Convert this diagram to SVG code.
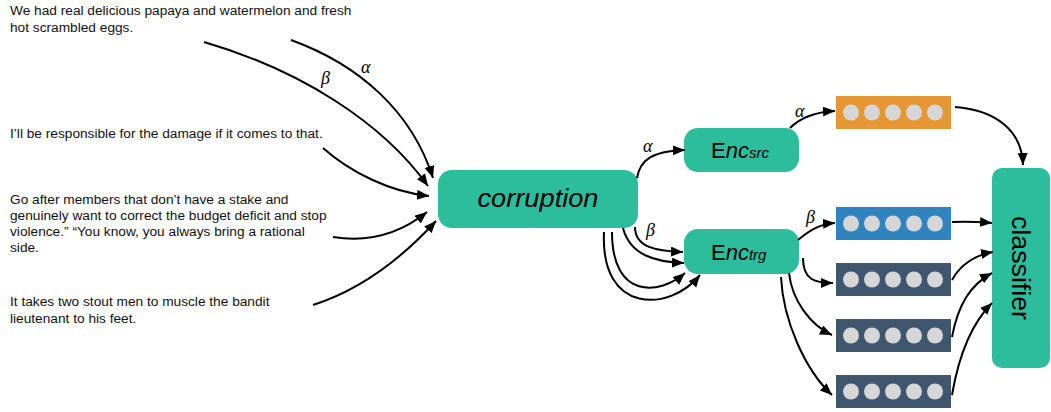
<svg xmlns="http://www.w3.org/2000/svg" width="1051" height="412" viewBox="0 0 1051 412">
  <style>
    .sent { font-family: "Liberation Sans", Arial, sans-serif; font-size: 13.7px; fill: #111; }
    .greek { font-family: "Liberation Serif", "Times New Roman", serif; font-style: italic; font-size: 18px; fill: #000; }
    .box { fill: #2BBD9C; }
    .label { font-family: "Liberation Sans", Arial, sans-serif; fill: #000; }
    .edge { fill: none; stroke: #000; stroke-width: 2; marker-end: url(#arrow); }
    .dot { fill: #D6D6D6; }
    .vec-src { fill: #E69633; }
    .vec-trg { fill: #2F83BF; }
    .vec-aug { fill: #3F566F; }
  </style>
  <defs>
    <marker id="arrow" markerUnits="userSpaceOnUse" markerWidth="13" markerHeight="11" refX="12" refY="5" orient="auto">
      <path d="M0,0 L12,5 L0,10 z" fill="#000"/>
    </marker>
    <g id="dots">
      <circle class="dot" cx="15" cy="16.5" r="8"/>
      <circle class="dot" cx="36" cy="16.5" r="8"/>
      <circle class="dot" cx="57" cy="16.5" r="8"/>
      <circle class="dot" cx="78" cy="16.5" r="8"/>
      <circle class="dot" cx="99" cy="16.5" r="8"/>
    </g>
  </defs>

  <!-- input sentences -->
  <g id="sentence-1">
    <text class="sent" x="10" y="15">We had real delicious papaya and watermelon and fresh</text>
    <text class="sent" x="10" y="32">hot scrambled eggs.</text>
  </g>
  <g id="sentence-2">
    <text class="sent" x="10" y="138">I’ll be responsible for the damage if it comes to that.</text>
  </g>
  <g id="sentence-3">
    <text class="sent" x="10" y="204">Go after members that don’t have a stake and</text>
    <text class="sent" x="10" y="220">genuinely want to correct the budget deficit and stop</text>
    <text class="sent" x="10" y="236">violence.” “You know, you always bring a rational</text>
    <text class="sent" x="10" y="252">side.</text>
  </g>
  <g id="sentence-4">
    <text class="sent" x="10" y="306">It takes two stout men to muscle the bandit</text>
    <text class="sent" x="10" y="323">lieutenant to his feet.</text>
  </g>

  <!-- processing blocks -->
  <g id="corruption">
    <rect class="box" x="438" y="170" width="200" height="58" rx="14"/>
    <text class="label" x="538" y="207" font-size="25" font-style="italic" text-anchor="middle" textLength="121" lengthAdjust="spacingAndGlyphs">corruption</text>
  </g>
  <g id="enc-src">
    <rect class="box" x="684" y="128" width="115" height="44" rx="14"/>
    <text class="label" x="711" y="158" font-size="22">E<tspan font-style="italic">nc</tspan><tspan font-style="italic" font-size="15">src</tspan></text>
  </g>
  <g id="enc-trg">
    <rect class="box" x="684" y="229" width="115" height="45" rx="14"/>
    <text class="label" x="711" y="260" font-size="22">E<tspan font-style="italic">nc</tspan><tspan font-style="italic" font-size="15">trg</tspan></text>
  </g>
  <g id="classifier">
    <rect class="box" x="992" y="168" width="58" height="200" rx="10"/>
    <text class="label" font-size="25" text-anchor="middle" transform="translate(1012,268) rotate(90)" textLength="104" lengthAdjust="spacingAndGlyphs">classifier</text>
  </g>

  <!-- sentence vectors -->
  <g id="vec-src">
    <rect class="vec-src" x="836" y="96" width="115" height="33"/>
    <use href="#dots" x="836" y="96"/>
  </g>
  <g id="vec-trg">
    <rect class="vec-trg" x="836" y="207" width="115" height="33"/>
    <use href="#dots" x="836" y="207"/>
  </g>
  <g id="vec-aug-1">
    <rect class="vec-aug" x="836" y="263" width="115" height="33"/>
    <use href="#dots" x="836" y="263"/>
  </g>
  <g id="vec-aug-2">
    <rect class="vec-aug" x="836" y="319" width="115" height="33"/>
    <use href="#dots" x="836" y="319"/>
  </g>
  <g id="vec-aug-3">
    <rect class="vec-aug" x="836" y="375" width="115" height="33"/>
    <use href="#dots" x="836" y="375"/>
  </g>

  <!-- connectors -->
  <g id="connectors">
    <path class="edge" d="M291,40 C360,65 412,112 433,178"/>
    <path class="edge" d="M204,42 C300,70 382,122 428,186"/>
    <path class="edge" d="M323,148 C350,172 390,192 429,196"/>
    <path class="edge" d="M333,237 C370,243 402,232 427,212"/>
    <path class="edge" d="M313,305 C360,290 402,258 436,221"/>

    <path class="edge" d="M637,178 C640,160 652,151 685,150"/>
    <path class="edge" d="M635,227 C635,247 655,251 683,252"/>
    <path class="edge" d="M623,228 C630,255 655,262 684,263"/>
    <path class="edge" d="M612,232 C612,300 660,295 685,273"/>
    <path class="edge" d="M604,232 C600,315 670,312 700,275"/>

    <path class="edge" d="M790,128 C800,118 815,112 835,111"/>
    <path class="edge" d="M798,240 C810,230 820,224 835,223"/>
    <path class="edge" d="M803,258 C803,280 815,283 833,283"/>
    <path class="edge" d="M789,273 C792,300 810,325 832,335"/>
    <path class="edge" d="M781,277 C783,320 805,370 832,395"/>

    <path class="edge" d="M955,107 C995,110 1022,130 1023,165"/>
    <path class="edge" d="M952,222 C970,221 980,222 992,223"/>
    <path class="edge" d="M952,280 C960,265 975,255 993,252"/>
    <path class="edge" d="M952,337 C958,305 970,285 992,273"/>
    <path class="edge" d="M952,395 C958,360 970,325 992,303"/>
  </g>

  <!-- mixing weights -->
  <g id="weights">
    <text class="greek" x="361" y="73">α</text>
    <text class="greek" x="321" y="84">β</text>
    <text class="greek" x="643" y="152">α</text>
    <text class="greek" x="646" y="236">β</text>
    <text class="greek" x="795" y="117">α</text>
    <text class="greek" x="806" y="223">β</text>
  </g>
</svg>
